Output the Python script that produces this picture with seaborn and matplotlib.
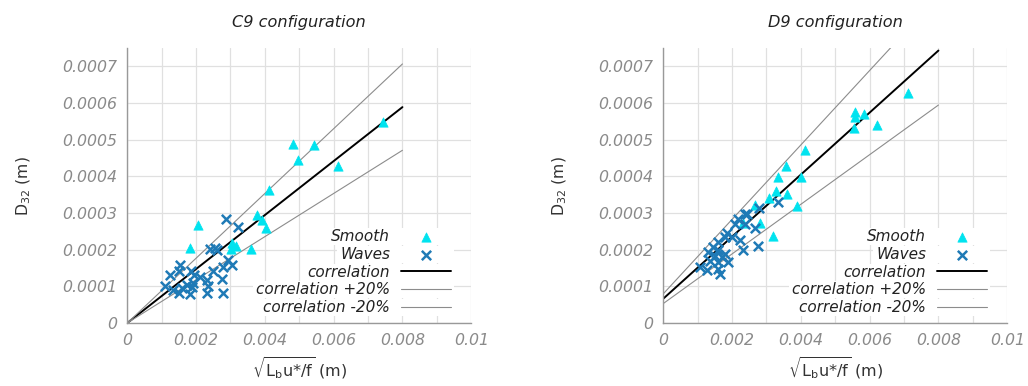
import numpy as np
import pandas as pd
import matplotlib
matplotlib.use("Agg")
import matplotlib.pyplot as plt
import seaborn as sns
from matplotlib.ticker import MultipleLocator, FuncFormatter
from matplotlib.patches import Rectangle

# ================================
# Data
# ================================
titles = ["C9 configuration", "D9 configuration"]

# C9 - smooth regime (triangles)
c9_smooth_x = [0.00744, 0.00483, 0.00543, 0.00497, 0.00613, 0.00412, 0.00376, 0.00391,
               0.00402, 0.00205, 0.00182, 0.00305, 0.00315, 0.00301, 0.00360]
c9_smooth_y = [0.000549, 0.000489, 0.000486, 0.000445, 0.000429, 0.000363, 0.000295, 0.000282,
               0.000258, 0.000267, 0.000205, 0.000218, 0.000209, 0.000202, 0.000202]

# C9 - waves regime (crosses)
c9_waves_x = [0.00287, 0.00323, 0.00240, 0.00255, 0.00262, 0.00292, 0.00305, 0.00279,
              0.00250, 0.00153, 0.00150, 0.00124, 0.00185, 0.00195, 0.00211, 0.00231,
              0.00274, 0.00110, 0.00173, 0.00187, 0.00235, 0.00134, 0.00150, 0.00182,
              0.00231, 0.00279, 0.00192, 0.00160]
c9_waves_y = [0.000285, 0.000263, 0.000202, 0.000204, 0.000198, 0.000173, 0.000159, 0.000154,
              0.000143, 0.000159, 0.000143, 0.000130, 0.000143, 0.000130, 0.000125, 0.000116,
              0.000121, 0.000102, 0.000104, 0.000098, 0.000102, 0.000089, 0.000083, 0.000080,
              0.000083, 0.000083, 0.000110, 0.000095]

# D9 - smooth regime
d9_smooth_x = [0.00712, 0.00557, 0.00583, 0.00557, 0.00554, 0.00620, 0.00412, 0.00356,
               0.00399, 0.00334, 0.00327, 0.00359, 0.00308, 0.00388, 0.00267, 0.00281,
               0.00320, 0.00233]
d9_smooth_y = [0.000628, 0.000576, 0.000571, 0.000562, 0.000531, 0.000539, 0.000471, 0.000429,
               0.000397, 0.000399, 0.000359, 0.000353, 0.000341, 0.000318, 0.000323, 0.000274,
               0.000236, 0.000272]

# D9 - waves regime
d9_waves_x = [0.00334, 0.00278, 0.00238, 0.00218, 0.00208, 0.00238, 0.00267, 0.00184,
              0.00179, 0.00199, 0.00223, 0.00160, 0.00276, 0.00233, 0.00145, 0.00160,
              0.00131, 0.00179, 0.00170, 0.00136, 0.00160, 0.00189, 0.00107, 0.00126,
              0.00160, 0.00165, 0.00150, 0.00242]
d9_waves_y = [0.000329, 0.000315, 0.000297, 0.000284, 0.000270, 0.000270, 0.000258, 0.000245,
              0.000234, 0.000234, 0.000227, 0.000220, 0.000211, 0.000198, 0.000207, 0.000198,
              0.000193, 0.000189, 0.000179, 0.000170, 0.000166, 0.000166, 0.000152, 0.000145,
              0.000148, 0.000134, 0.000184, 0.000297]

# correlation D32 = a + b * sqrt(Lb u*/f), drawn with +/-20 %
corr_intercept = [0.0, 0.0000663]
corr_slope = [0.0736, 0.0846]
corr_xrange = [0.0, 0.008]

smooth_x = [c9_smooth_x, d9_smooth_x]
smooth_y = [c9_smooth_y, d9_smooth_y]
waves_x = [c9_waves_x, d9_waves_x]
waves_y = [c9_waves_y, d9_waves_y]

# ================================
# Style
# ================================
sns.set_style("white")
plt.rcParams['font.family'] = ['DejaVu Sans']
plt.rcParams['mathtext.fontset'] = 'dejavusans'

cyan = "#00e3ef"
blue = "#1f7ab6"
tick_grey = "#8a8a8a"
fs = 11.3

fig = plt.figure(figsize=(10.28, 3.86), dpi=100)
axes = [fig.add_axes([0.1238, 0.1632, 0.3346, 0.7124]),
        fig.add_axes([0.6452, 0.1632, 0.3346, 0.7124])]
legends = []

for i, ax in enumerate(axes):
    xs = np.array(corr_xrange)
    base = corr_intercept[i] + corr_slope[i] * xs

    sns.scatterplot(x=smooth_x[i], y=smooth_y[i], marker="^", s=45, color=cyan,
                    edgecolor=cyan, linewidth=0.5, label="Smooth", ax=ax, zorder=3)
    sns.scatterplot(x=waves_x[i], y=waves_y[i], marker="x", s=45, color=blue,
                    linewidth=1.8, label="Waves", ax=ax, zorder=3)
    sns.lineplot(x=xs, y=base, color="black", linewidth=1.4, label="correlation", ax=ax)
    sns.lineplot(x=xs, y=base * 1.2, color="#8c8c8c", linewidth=0.8,
                 label="correlation +20%", ax=ax)
    sns.lineplot(x=xs, y=base * 0.8, color="#8c8c8c", linewidth=0.8,
                 label="correlation -20%", ax=ax)

    ax.set_xlim(0, 0.01)
    ax.set_ylim(0, 0.00075)
    ax.xaxis.set_major_locator(MultipleLocator(0.002))
    ax.xaxis.set_minor_locator(MultipleLocator(0.001))
    ax.yaxis.set_major_locator(MultipleLocator(0.0001))
    fmt = FuncFormatter(lambda v, p: "%g" % round(v, 6))
    ax.xaxis.set_major_formatter(fmt)
    ax.yaxis.set_major_formatter(fmt)

    ax.grid(True, which="both", color="#e0e0e0", linewidth=0.9)
    ax.set_axisbelow(True)
    for side in ["top", "right"]:
        ax.spines[side].set_visible(False)
    for side in ["left", "bottom"]:
        ax.spines[side].set_color("#999999")
        ax.spines[side].set_linewidth(1.0)
    ax.tick_params(which="both", direction="in", length=5, color="#999999",
                   labelcolor=tick_grey, labelsize=fs, pad=7)
    for lab in ax.get_xticklabels() + ax.get_yticklabels():
        lab.set_fontstyle("italic")

    ax.set_title(titles[i], fontsize=fs + 0.3, style="italic", color="#222222", pad=15)
    ax.set_xlabel(r"$\sqrt{\mathrm{L_bu{*}/f}}$ (m)", fontsize=fs + 0.3, color="#333333", labelpad=5)
    ax.set_ylabel(r"D$_{32}$ (m)", fontsize=fs, color="#333333", labelpad=21)

    handles, labels = ax.get_legend_handles_labels()
    leg = ax.legend(handles, labels, loc="lower right", bbox_to_anchor=(0.955, 0.012),
                    markerfirst=False, frameon=False, fontsize=fs - 0.3,
                    handlelength=3.3, handletextpad=0.7,
                    labelspacing=0.18, borderpad=0.3, borderaxespad=0)
    for t in leg.get_texts():
        t.set_fontstyle("italic")
        t.set_color("#222222")
    legends.append(leg)

# white box behind each key entry (text + sample), hides the grid there
fig.canvas.draw()
renderer = fig.canvas.get_renderer()
for ax, leg in zip(axes, legends):
    frame = leg.get_window_extent(renderer)
    inv = ax.transAxes.inverted()
    for t in leg.get_texts():
        bb = t.get_window_extent(renderer)
        (x0, y0) = inv.transform((bb.x0 - 3, bb.y0 - 1))
        (x1, y1) = inv.transform((frame.x1 - 2, bb.y1 + 1))
        ax.add_patch(Rectangle((x0, y0), x1 - x0, y1 - y0, transform=ax.transAxes,
                               facecolor="white", edgecolor="none", zorder=0.8))

fig.savefig("out.png", dpi=100)
